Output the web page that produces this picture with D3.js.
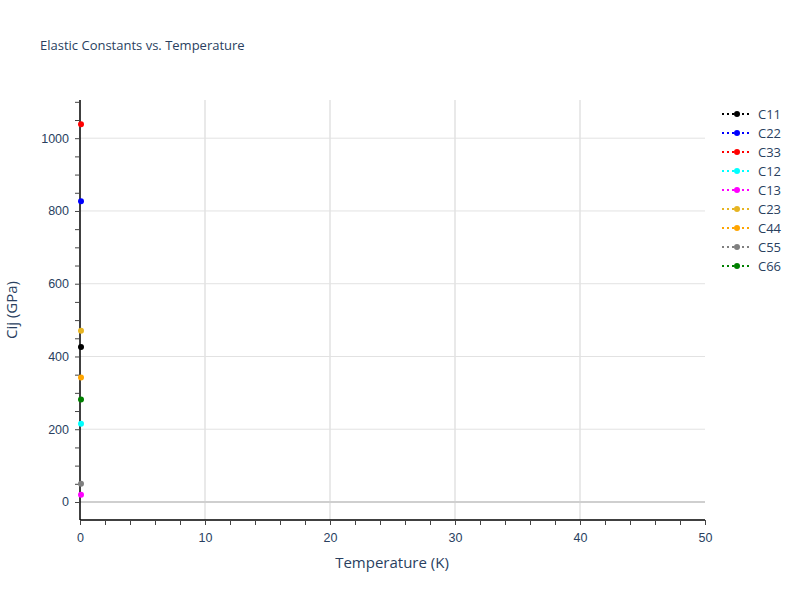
<!DOCTYPE html>
<html><head><meta charset="utf-8">
<script src="https://cdn.jsdelivr.net/npm/d3@7"></script>
<style>body{margin:0;background:#fff}svg{font-family:"Open Sans",verdana,arial,sans-serif}</style>
</head><body><svg id="c" width="800" height="600"></svg>
<script>
const seriesNames = ["C11","C22","C33","C12","C13","C23","C44","C55","C66"];
const seriesColors = ["black","blue","red","cyan","magenta","#e6b422","orange","gray","green"];
const temperatures = [0];
const seriesValues = [[426],[827],[1038],[215],[20],[471],[342],[50],[282]];
const xTicks = [0,10,20,30,40,50];
const yTicks = [0,200,400,600,800,1000];

const svg = d3.select("#c");
const L=80, R=705, T=100, B=520;
const x = d3.scaleLinear().domain([0,50]).range([L,R]);
const y = d3.scaleLinear().domain([-49.5,1105]).range([B,T]);
const txt = "#2a3f5f";

// grid
svg.append("g").selectAll("line").data(xTicks.filter(d=>d>0&&d<50)).join("line")
  .attr("x1",d=>x(d)).attr("x2",d=>x(d)).attr("y1",T).attr("y2",B)
  .attr("stroke","#e2e2e2").attr("stroke-width",1.5);
svg.append("g").selectAll("line").data(yTicks.filter(d=>d!==0)).join("line")
  .attr("x1",L).attr("x2",R).attr("y1",d=>y(d)).attr("y2",d=>y(d))
  .attr("stroke","#e2e2e2").attr("stroke-width",1);
svg.append("line").attr("x1",L).attr("x2",R).attr("y1",y(0)).attr("y2",y(0))
  .attr("stroke","#cfcfcf").attr("stroke-width",2);

// axes
const xAxis = d3.axisBottom(x).tickValues(d3.range(0,51,2)).tickSize(5).tickFormat(d=>xTicks.includes(d)?d:"");
const gx = svg.append("g").attr("transform",`translate(0,${B})`).call(xAxis);
gx.select(".domain").attr("stroke","#000").attr("stroke-width",1.5).attr("d",`M${L},0H${R}`);
gx.selectAll(".tick line").attr("stroke","#444");
gx.selectAll(".tick text").attr("fill",txt).attr("font-size",12.5).attr("dy","1.1em");

const yAxis = d3.axisLeft(y).tickValues(d3.range(0,1101,50)).tickSize(5).tickFormat(d=>yTicks.includes(d)?d:"");
const gy = svg.append("g").attr("transform",`translate(${L},0)`).call(yAxis);
gy.select(".domain").attr("stroke","#000").attr("stroke-width",1.5).attr("d",`M0,${T}V${B}`);
gy.selectAll(".tick line").attr("stroke","#444");
gy.selectAll(".tick text").attr("fill",txt).attr("font-size",12.5).attr("x",-11);

// points
seriesNames.forEach((n,i)=>{
  const pts = temperatures.map((t,j)=>({t,v:seriesValues[i][j]}));
  svg.append("path").datum(pts).attr("fill","none").attr("stroke",seriesColors[i])
    .attr("stroke-width",2).attr("stroke-dasharray","2,3")
    .attr("d",d3.line().x(d=>x(d.t)).y(d=>y(d.v)));
  svg.append("g").selectAll("circle").data(pts).join("circle")
    .attr("cx",d=>x(d.t)+1).attr("cy",d=>y(d.v)).attr("r",3).attr("fill",seriesColors[i]);
});

// titles
svg.append("text").attr("x",40).attr("y",50).attr("font-size",13).attr("fill",txt).text("Elastic Constants vs. Temperature");
svg.append("text").attr("x",392).attr("y",568).attr("text-anchor","middle").attr("font-size",15).attr("fill",txt).text("Temperature (K)");
svg.append("text").attr("transform",`translate(17,${(T+B)/2}) rotate(-90)`).attr("text-anchor","middle").attr("font-size",15).attr("fill",txt).text("Cij (GPa)");

// legend
const lg = svg.append("g").selectAll("g").data(seriesNames).join("g")
  .attr("transform",(d,i)=>`translate(722,${114+i*19})`);
lg.append("line").attr("x1",0).attr("x2",30).attr("stroke",(d,i)=>seriesColors[i]).attr("stroke-width",2).attr("stroke-dasharray","2,3");
lg.append("circle").attr("cx",15).attr("r",3).attr("fill",(d,i)=>seriesColors[i]);
lg.append("text").attr("x",36).attr("dy","0.35em").attr("font-size",13).attr("fill",txt).text(d=>d);
</script></body></html>
